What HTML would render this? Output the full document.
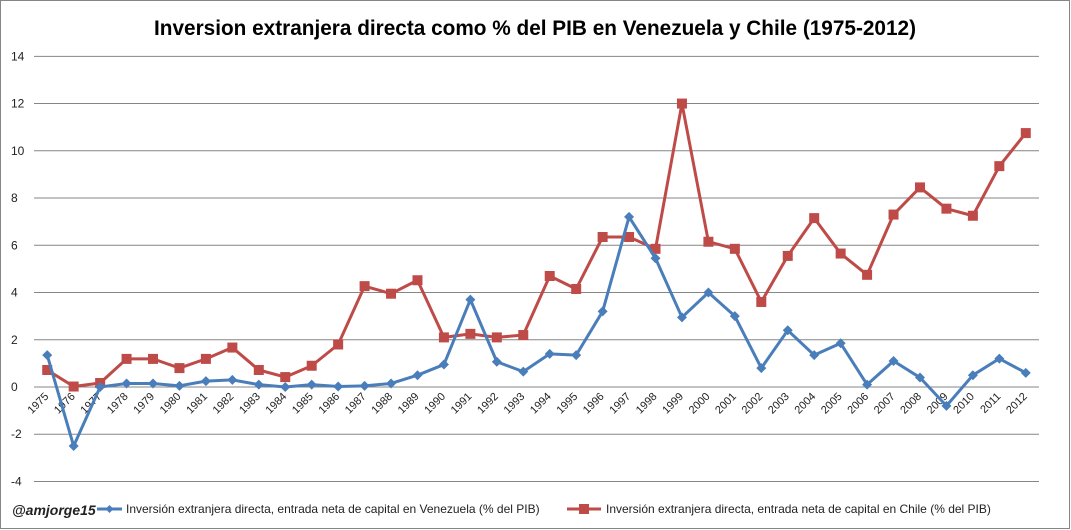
<!DOCTYPE html>
<html><head><meta charset="utf-8"><style>
html,body{margin:0;padding:0;background:#fff;}
svg{display:block;font-family:"Liberation Sans",sans-serif;}
</style></head><body>
<svg id="chart" width="1071" height="530" viewBox="0 0 1071 530" xmlns="http://www.w3.org/2000/svg">
<rect x="0.5" y="0.5" width="1069" height="528" fill="#fff" stroke="#868686"/>
<text x="535" y="35" text-anchor="middle" font-size="21" font-weight="bold" fill="#000" textLength="762" lengthAdjust="spacingAndGlyphs">Inversion extranjera directa como % del PIB en Venezuela y Chile (1975-2012)</text>
<g id="grid"></g><g id="yticks"></g><g id="xticks"></g><g id="series"></g>
<text x="12" y="515" font-size="14" font-weight="bold" font-style="italic" fill="#222">@amjorge15</text>
<line x1="97" y1="509" x2="122" y2="509" stroke="#4a7ebb" stroke-width="3"/>
<path d="M109.5 505 L113.5 509 L109.5 513 L105.5 509Z" fill="#4a7ebb"/>
<text x="126" y="513" font-size="12" fill="#222">Inversión extranjera directa, entrada neta de capital en Venezuela (% del PIB)</text>
<line x1="567" y1="509" x2="601" y2="509" stroke="#be4b48" stroke-width="3"/>
<rect x="579" y="504" width="10" height="10" fill="#be4b48"/>
<text x="606" y="513" font-size="12" fill="#222">Inversión extranjera directa, entrada neta de capital en Chile (% del PIB)</text>
</svg>
<script>
const years=[1975,1976,1977,1978,1979,1980,1981,1982,1983,1984,1985,1986,1987,1988,1989,1990,1991,1992,1993,1994,1995,1996,1997,1998,1999,2000,2001,2002,2003,2004,2005,2006,2007,2008,2009,2010,2011,2012];
const venezuela=[1.35,-2.5,0.0,0.15,0.15,0.05,0.25,0.3,0.1,0.0,0.1,0.02,0.05,0.15,0.5,0.95,3.7,1.07,0.65,1.4,1.35,3.2,7.2,5.45,2.95,4.0,3.0,0.8,2.4,1.35,1.85,0.1,1.1,0.4,-0.8,0.5,1.2,0.6];
const chile=[0.72,0.02,0.17,1.19,1.19,0.8,1.19,1.67,0.72,0.42,0.9,1.8,4.27,3.95,4.52,2.1,2.25,2.1,2.2,4.7,4.15,6.35,6.35,5.85,12.0,6.15,5.85,3.6,5.55,7.15,5.65,4.75,7.3,8.45,7.55,7.25,9.35,10.75];
const yTicks=[-4,-2,0,2,4,6,8,10,12,14];
const NS="http://www.w3.org/2000/svg";
const X0=34,X1=1039,Y0=387,PX=23.62;
const step=(X1-X0)/years.length;
function xs(i){return X0+step*(i+0.5);}
function ys(v){return Y0-v*PX;}
function mk(tag,attrs,parent){const e=document.createElementNS(NS,tag);for(const k in attrs)e.setAttribute(k,attrs[k]);parent.appendChild(e);return e;}
const grid=document.getElementById('grid'),yt=document.getElementById('yticks'),xt=document.getElementById('xticks'),ser=document.getElementById('series');
yTicks.forEach(t=>{
  const l=mk('line',{x1:X0,x2:X1,y1:ys(t),y2:ys(t),stroke:'#868686','stroke-width':1},grid);
  
  
  const tx=mk('text',{x:11,y:ys(t)+4,'font-size':12,fill:'#222'},yt);
  tx.textContent=t;
  
  
});
years.forEach((y,i)=>{
  const x=xs(i)+2,yy=Y0+10;
  const tx=mk('text',{x:x,y:yy,'font-size':11,fill:'#222','text-anchor':'end',transform:`rotate(-45 ${x} ${yy})`},xt);
  tx.textContent=y;
  
  
});
function drawSeries(vals,color,kind,name){
  const g=mk('g',{},ser);
  
  
  mk('polyline',{points:vals.map((v,i)=>xs(i)+','+ys(v)).join(' '),fill:'none',stroke:color,'stroke-width':3,'stroke-linejoin':'round'},g);
  vals.forEach((v,i)=>{
    let m;
    if(kind==='sq'){m=mk('rect',{x:xs(i)-5,y:ys(v)-5,width:10,height:10,fill:color},g);}
    else{const x=xs(i),y=ys(v);m=mk('path',{d:`M${x} ${y-5}L${x+5} ${y}L${x} ${y+5}L${x-5} ${y}Z`,fill:color},g);}
    
    
  });
}
drawSeries(chile,'#be4b48','sq','series-chile');
drawSeries(venezuela,'#4a7ebb','dia','series-venezuela');
</script>
</body></html>
